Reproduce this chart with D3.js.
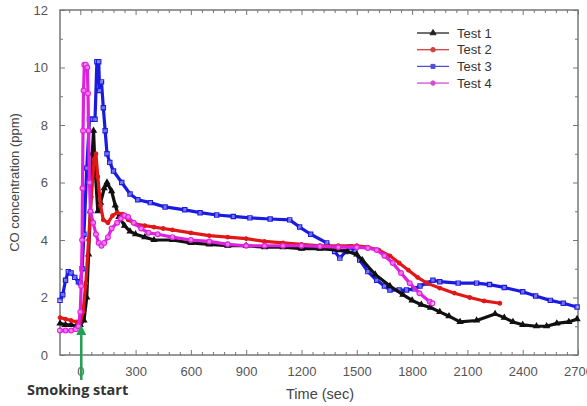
<!DOCTYPE html>
<html>
<head>
<meta charset="utf-8">
<script src="https://cdn.jsdelivr.net/npm/d3@7"></script>
<style>
  body { margin: 0; background: #fff; }
  text { font-family: 'Liberation Sans', Arial, sans-serif; }
</style>
</head>
<body>
<div id="chart"></div>
<script>
// data: [time (s), CO (ppm)]
const test1 = [[-110,1.1],[-80,1.05],[-50,1.05],[-20,1.0],[0,1.05],[20,1.2],[35,2.0],[45,3.5],[55,5.0],[65,7.0],[72,7.8],[80,6.5],[95,5.0],[110,5.3],[130,5.8],[145,6.0],[170,5.7],[190,5.2],[210,4.8],[240,4.5],[270,4.3],[300,4.2],[350,4.1],[400,4.0],[500,4.0],[600,3.9],[700,3.85],[800,3.8],[900,3.8],[1000,3.75],[1100,3.75],[1200,3.7],[1300,3.7],[1400,3.65],[1450,3.6],[1500,3.5],[1530,3.3],[1600,2.8],[1680,2.4],[1750,2.1],[1800,1.9],[1850,1.75],[1900,1.65],[1950,1.5],[2000,1.35],[2060,1.15],[2150,1.2],[2250,1.43],[2300,1.3],[2347,1.15],[2400,1.05],[2475,1.0],[2530,1.0],[2585,1.1],[2650,1.15],[2695,1.25]]
const test2 = [[-110,1.3],[-80,1.25],[-50,1.2],[-20,1.15],[0,1.15],[15,1.5],[30,2.5],[45,4.0],[60,5.5],[75,6.8],[85,7.0],[95,6.2],[110,5.2],[125,4.7],[150,4.6],[175,4.85],[200,4.95],[230,4.9],[260,4.7],[300,4.55],[350,4.5],[400,4.45],[450,4.4],[500,4.35],[600,4.25],[700,4.15],[800,4.1],[900,4.05],[1000,3.95],[1100,3.9],[1200,3.85],[1300,3.8],[1400,3.8],[1500,3.8],[1560,3.75],[1620,3.65],[1680,3.45],[1730,3.2],[1780,2.95],[1830,2.7],[1880,2.5],[1950,2.33],[2030,2.15],[2113,2.0],[2190,1.88],[2276,1.8]]
const test3 = [[-110,1.9],[-95,2.1],[-80,2.6],[-65,2.9],[-50,2.85],[-30,2.7],[-10,2.55],[0,2.5],[10,3.0],[20,4.2],[35,6.5],[50,8.2],[65,8.2],[80,8.2],[90,10.2],[100,10.2],[105,9.2],[115,9.5],[125,8.6],[135,7.8],[145,7.0],[160,6.7],[180,6.4],[225,6.0],[270,5.6],[312,5.4],[380,5.3],[460,5.15],[567,5.05],[650,4.95],[740,4.87],[830,4.82],[920,4.77],[1030,4.73],[1136,4.7],[1190,4.45],[1250,4.2],[1337,3.9],[1380,3.6],[1408,3.37],[1440,3.6],[1462,3.76],[1490,3.6],[1516,3.3],[1560,2.9],[1608,2.6],[1650,2.4],[1680,2.26],[1730,2.26],[1770,2.26],[1810,2.3],[1843,2.4],[1880,2.5],[1913,2.6],[1950,2.55],[2050,2.5],[2150,2.5],[2220,2.45],[2300,2.35],[2400,2.2],[2470,2.05],[2550,1.9],[2620,1.8],[2695,1.67]]
const test4 = [[-110,0.85],[-80,0.85],[-50,0.85],[-25,0.9],[-10,1.0],[0,1.5],[5,2.4],[10,4.0],[12,5.8],[15,7.8],[18,9.2],[22,10.1],[30,10.1],[38,10.0],[42,9.1],[45,7.8],[50,6.0],[55,5.0],[70,4.6],[85,4.2],[100,3.9],[115,3.8],[130,3.9],[150,4.1],[170,4.4],[200,4.6],[220,4.75],[240,4.85],[260,4.8],[290,4.6],[330,4.4],[370,4.25],[420,4.2],[500,4.1],[600,4.0],[700,3.95],[800,3.85],[900,3.8],[1000,3.8],[1100,3.8],[1200,3.8],[1300,3.78],[1400,3.75],[1500,3.75],[1560,3.72],[1608,3.65],[1650,3.45],[1695,3.2],[1740,2.85],[1787,2.5],[1840,2.15],[1896,1.85],[1910,1.8]]

const seriesNames = ['Test 1', 'Test 2', 'Test 3', 'Test 4']
const seriesColors = ['#111111', '#e01818', '#1a1ae0', '#e020e0']
const xTicks = [0, 300, 600, 900, 1200, 1500, 1800, 2100, 2400, 2700]
const yTicks = [0, 2, 4, 6, 8, 10, 12]

const width = 587
const height = 406
const margin = { top: 10, right: 9, bottom: 51, left: 60 }
const boundedWidth = width - margin.left - margin.right
const boundedHeight = height - margin.top - margin.bottom

const svg = d3.select('#chart').append('svg')
  .attr('width', width)
  .attr('height', height)

const bounds = svg.append('g')
  .attr('transform', `translate(${margin.left},${margin.top})`)

const xScale = d3.scaleLinear().domain([-110, 2700]).range([0, boundedWidth])
const yScale = d3.scaleLinear().domain([0, 12]).range([boundedHeight, 0])

// ticks on all four sides, pointing inward
const xMinor = d3.range(-60, 2701, 60).filter(v => v % 300 !== 0)
const yMinor = d3.range(1, 12, 2)
const tickColor = '#777'

const drawAxis = (gen, transform, labels) => {
  const g = bounds.append('g').attr('transform', transform).call(gen)
  g.select('.domain').remove()
  g.selectAll('line').attr('stroke', tickColor).attr('stroke-width', 1)
  g.selectAll('text')
    .attr('fill', '#555')
    .style('font-size', '13px')
  if (!labels) g.selectAll('text').remove()
  return g
}

drawAxis(d3.axisBottom(xScale).tickValues(xTicks).tickFormat(d3.format('d')).tickSize(-5).tickPadding(12), `translate(0,${boundedHeight})`, true)
drawAxis(d3.axisBottom(xScale).tickValues(xMinor).tickSize(-3), `translate(0,${boundedHeight})`, false)
drawAxis(d3.axisTop(xScale).tickValues(xTicks).tickSize(-5), 'translate(0,0)', false)
drawAxis(d3.axisTop(xScale).tickValues(xMinor).tickSize(-3), 'translate(0,0)', false)
drawAxis(d3.axisLeft(yScale).tickValues(yTicks).tickSize(-5).tickPadding(12), 'translate(0,0)', true)
drawAxis(d3.axisLeft(yScale).tickValues(yMinor).tickSize(-3), 'translate(0,0)', false)
drawAxis(d3.axisRight(yScale).tickValues(yTicks).tickSize(-5), `translate(${boundedWidth},0)`, false)
drawAxis(d3.axisRight(yScale).tickValues(yMinor).tickSize(-3), `translate(${boundedWidth},0)`, false)

// frame
bounds.append('rect')
  .attr('width', boundedWidth)
  .attr('height', boundedHeight)
  .attr('fill', 'none')
  .attr('stroke', '#777')
  .attr('stroke-width', 1.5)

// series
const lineGenerator = d3.line()
  .x(d => xScale(d[0]))
  .y(d => yScale(d[1]))

const allSeries = [test1, test2, test3, test4]
const symbols = [d3.symbolTriangle, d3.symbolCircle, d3.symbolSquare, d3.symbolCircle]
const symbolSizes = [12, 10, 18, 18]
const filled = [true, true, false, false]

// draw order roughly as in the figure
;[2, 0, 1, 3].forEach(i => {
  const data = allSeries[i]
  bounds.append('path')
    .attr('d', lineGenerator(data))
    .attr('fill', 'none')
    .attr('stroke', seriesColors[i])
    .attr('stroke-width', 3.2)
    .attr('stroke-linejoin', 'round')

  bounds.append('g').selectAll('path')
    .data(data)
    .join('path')
    .attr('transform', d => `translate(${xScale(d[0])},${yScale(d[1])})`)
    .attr('d', d3.symbol().type(symbols[i]).size(symbolSizes[i]))
    .attr('fill', filled[i] ? seriesColors[i] : '#fff')
    .attr('fill-opacity', filled[i] ? 1 : 0.4)
    .attr('stroke', seriesColors[i])
    .attr('stroke-width', 1.2)
})

// legend
const legend = bounds.append('g').attr('transform', `translate(${boundedWidth - 161},23)`)
const legendColors = ['#222', '#d04040', '#5050d0', '#d050d0']
seriesNames.forEach((name, i) => {
  const row = legend.append('g').attr('transform', `translate(0,${i * 16.7})`)
  row.append('line')
    .attr('x1', 0).attr('x2', 32)
    .attr('stroke', legendColors[i])
    .attr('stroke-width', 1.3)
  row.append('path')
    .attr('transform', 'translate(16,0)')
    .attr('d', d3.symbol().type(symbols[i]).size(16))
    .attr('fill', legendColors[i])
    .attr('stroke', legendColors[i])
  row.append('text')
    .attr('x', 40)
    .attr('y', 4.5)
    .attr('fill', '#333')
    .style('font-size', '13px')
    .text(name)
})

// axis titles
svg.append('text')
  .attr('transform', `translate(19,${margin.top + boundedHeight / 2}) rotate(-90)`)
  .attr('text-anchor', 'middle')
  .attr('fill', '#444')
  .style('font-size', '13px')
  .text('CO concentration (ppm)')

svg.append('text')
  .attr('x', 320)
  .attr('y', 399)
  .attr('text-anchor', 'middle')
  .attr('fill', '#444')
  .style('font-size', '14.5px')
  .text('Time (sec)')

// smoking start marker
const arrowX = margin.left + xScale(0) + 1
svg.append('defs').append('marker')
  .attr('id', 'arrowhead')
  .attr('viewBox', '0 0 10 10')
  .attr('refX', 5).attr('refY', 5)
  .attr('markerWidth', 4).attr('markerHeight', 4)
  .attr('orient', 'auto')
  .append('path')
  .attr('d', 'M0,0L10,5L0,10Z')
  .attr('fill', '#1fa052')

svg.append('line')
  .attr('x1', arrowX).attr('x2', arrowX)
  .attr('y1', 380).attr('y2', 330)
  .attr('stroke', '#1fa052')
  .attr('stroke-width', 2.5)
  .attr('marker-end', 'url(#arrowhead)')

svg.append('text')
  .attr('x', 27)
  .attr('y', 395)
  .attr('fill', '#333')
  .style('font-size', '14.5px')
  .style('font-weight', 'bold')
  .style('font-family', "'Open Sans', 'DejaVu Sans', sans-serif")
  .text('Smoking start')
</script>
</body>
</html>
